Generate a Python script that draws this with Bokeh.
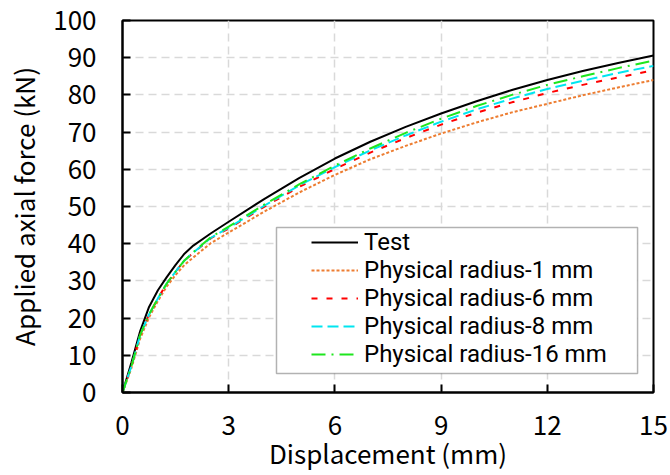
from bokeh.plotting import figure
from bokeh.models import Legend, LegendItem, FixedTicker, BoxAnnotation
from bokeh.embed import file_html
from bokeh.resources import INLINE

x_vals = [0, 0.25, 0.5, 0.75, 1.0, 1.25, 1.5, 1.75, 2.0, 2.5, 3, 4, 5, 6, 7, 8, 9, 10, 11, 12, 13, 14, 15]
test = [0, 8.0, 16.5, 23.0, 27.5, 31.0, 34.3, 37.3, 39.5, 42.8, 45.9, 52.0, 57.7, 62.9, 67.4, 71.4, 75.0, 78.3, 81.3, 84.0, 86.4, 88.6, 90.6]
r1 = [0, 6.5, 14.5, 20.2, 24.6, 28.5, 31.6, 34.3, 36.3, 40.2, 43.0, 48.6, 53.8, 58.5, 62.7, 66.3, 69.6, 72.6, 75.3, 77.6, 79.9, 82.0, 84.0]
r6 = [0, 7.0, 15.5, 21.0, 25.3, 29.3, 32.5, 35.5, 37.5, 41.5, 44.1, 49.9, 55.3, 60.1, 64.5, 68.4, 72.0, 75.2, 78.0, 80.5, 82.7, 84.7, 86.6]
r8 = [0, 7.0, 15.5, 21.0, 25.3, 29.3, 32.5, 35.5, 37.6, 41.6, 44.3, 50.2, 55.7, 60.6, 65.1, 69.1, 72.8, 76.1, 79.0, 81.6, 83.8, 85.9, 87.8]
r16 = [0, 7.0, 15.5, 21.0, 25.3, 29.3, 32.5, 35.5, 37.7, 41.8, 44.6, 50.5, 56.0, 61.0, 65.6, 69.8, 73.6, 77.0, 80.0, 82.7, 85.0, 87.2, 89.2]
labels = ["Test", "Physical radius-1 mm", "Physical radius-6 mm", "Physical radius-8 mm", "Physical radius-16 mm"]
x_ticks = [0, 3, 6, 9, 12, 15]
y_ticks = [0, 10, 20, 30, 40, 50, 60, 70, 80, 90, 100]

FONT = "Noto Sans CJK SC"
LEGEND_FONT = "Roboto"

p = figure(width=670, height=475, output_backend="svg", toolbar_location=None,
           x_range=(0, 15), y_range=(0, 100),
           min_border_left=122, min_border_right=17, min_border_top=20, min_border_bottom=83)

p.outline_line_color = "black"
p.outline_line_width = 2
p.background_fill_color = "white"
p.border_fill_color = "white"

for ax in (p.xaxis[0], p.yaxis[0]):
    ax.major_tick_in = 8
    ax.major_tick_out = 0
    ax.minor_tick_in = 0
    ax.minor_tick_out = 0
    ax.axis_line_color = "black"
    ax.axis_line_width = 2
    ax.major_tick_line_width = 2
    ax.major_label_text_font = FONT
    ax.major_label_text_font_size = "26px"
    ax.major_label_text_color = "black"
    ax.axis_label_text_font = FONT
    ax.axis_label_text_font_size = "26px"
    ax.axis_label_text_font_style = "normal"
    ax.axis_label_text_color = "black"

p.xaxis.ticker = FixedTicker(ticks=x_ticks)
p.yaxis.ticker = FixedTicker(ticks=y_ticks)
p.xaxis.axis_label = "Displacement (mm)"
p.yaxis.axis_label = "Applied axial force (kN)"
p.xaxis.axis_label_standoff = -4
p.yaxis.axis_label_standoff = 8
p.xaxis.major_label_standoff = 23
p.yaxis.major_label_standoff = 26

for g in (p.xgrid[0], p.ygrid[0]):
    g.grid_line_color = "#d9d9d9"
    g.grid_line_width = 1.5
    g.grid_line_dash = "8 5"

rt = p.line(x_vals, test, line_color="black", line_width=2)
ro = p.line(x_vals, r1, line_color="#ED7D31", line_width=2, line_dash="3 2")
rr = p.line(x_vals, r6, line_color="#FF0000", line_width=2, line_dash="6 9")
rc = p.line(x_vals, r8, line_color="#00E5F0", line_width=2, line_dash="11 5")
rg = p.line(x_vals, r16, line_color="#1EE61E", line_width=2, line_dash="14 6 2 6")

# legend frame (layout only)
box = BoxAnnotation(left=4.35, right=14.55, bottom=5.1, top=44.35,
                    fill_color="white", fill_alpha=1, line_color="black", line_width=1.5)
p.add_layout(box)

items = [LegendItem(label=l, renderers=[r]) for l, r in zip(labels, [rt, ro, rr, rc, rg])]
legend = Legend(items=items, location=(189, 24))
legend.label_text_font = LEGEND_FONT
legend.label_text_font_size = "24px"
legend.label_text_color = "black"
legend.glyph_width = 47
legend.glyph_height = 20
legend.label_height = 20
legend.spacing = 0
legend.padding = 0
legend.margin = 0
legend.label_standoff = 6
legend.border_line_color = None
legend.background_fill_alpha = 0
p.add_layout(legend, "center")

open("out.html", "w").write(file_html(p, INLINE))
